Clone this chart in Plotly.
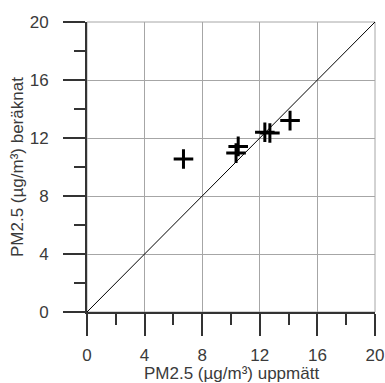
import plotly.graph_objects as go

measured = [6.7, 10.5, 10.35, 12.35, 12.7, 14.1]
computed = [10.55, 11.42, 10.96, 12.4, 12.35, 13.2]
line_x = [0, 20]
line_y = [0, 20]
tick_vals = [0, 4, 8, 12, 16, 20]
tick_text = ["0", "4", "8", "12", "16", "20"]
x_title = "PM2.5 (µg/m³) uppmätt"
y_title = "PM2.5 (µg/m³) beräknat"

font_family = "Liberation Sans, Arial, sans-serif"
fsize = 17
tcolor = "#3a3a3a"

fig = go.Figure()
fig.add_trace(go.Scatter(x=line_x, y=line_y, mode="lines",
                         line=dict(color="black", width=1), showlegend=False,
                         hoverinfo="skip"))
fig.add_trace(go.Scatter(x=measured, y=computed, mode="markers",
                         marker=dict(symbol="cross-thin", size=14,
                                     line=dict(color="black", width=3)),
                         showlegend=False))

axis_common = dict(
    range=[0, 20], tickvals=tick_vals, ticktext=tick_text,
    showgrid=True, gridcolor="#a6a6a6", gridwidth=1,
    zeroline=False, showline=True, linecolor="#333333", linewidth=2,
    ticks="outside", ticklen=22, tickwidth=2, tickcolor="#333333",
    minor=dict(ticks="outside", ticklen=11, tickwidth=2, tickcolor="#333333",
               dtick=2, showgrid=False),
    tickfont=dict(family=font_family, size=fsize, color=tcolor),
    fixedrange=True, automargin=False,
)

fig.update_xaxes(**axis_common, ticklabelstandoff=5)
fig.update_yaxes(**axis_common, ticklabelstandoff=11)

fig.add_annotation(text=x_title, xref="paper", yref="paper", x=0.5, y=0,
                   xanchor="center", yanchor="middle", yshift=-61,
                   showarrow=False,
                   font=dict(family=font_family, size=fsize, color=tcolor))
fig.add_annotation(text=y_title, xref="paper", yref="paper", x=0, y=0.5,
                   xanchor="center", yanchor="middle", xshift=-70,
                   textangle=-90, showarrow=False,
                   font=dict(family=font_family, size=fsize, color=tcolor))

fig.add_shape(type="rect", xref="paper", yref="paper", x0=0, y0=0, x1=1, y1=1,
              line=dict(color="#a6a6a6", width=1), layer="below")

fig.update_layout(
    width=385, height=383,
    margin=dict(l=87, r=10, t=22, b=71),
    plot_bgcolor="white", paper_bgcolor="white",
)

fig.write_html("out.html")
